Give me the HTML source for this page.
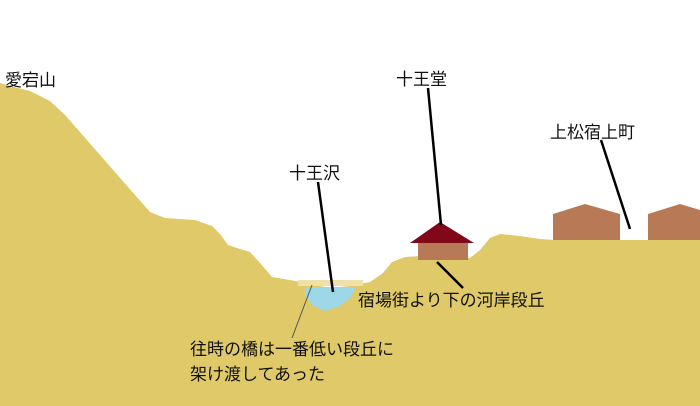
<!DOCTYPE html>
<html><head><meta charset="utf-8"><style>
body{margin:0;width:700px;height:406px;overflow:hidden;background:#fff}
svg{display:block}
text{font-family:"Liberation Sans","Noto Sans CJK JP",sans-serif;font-size:17px;fill:#111}
</style></head><body>
<svg width="700" height="406" viewBox="0 0 700 406">
<polygon fill="#dfc968" points="0,83 10,86 30,91 50,101 65,115 100,155 135,195 150,212 165,218 195,220 212,226 220,234 228,245 240,249 250,252 260,263 272,277 290,280 310,284 330,288 350,286 370,282 383,273 392,262 405,257 420,256 440,258 470,258 480,250 490,238 500,234 520,236 540,239 555,240 700,240 700,406 0,406"/>
<polygon fill="#9cd8e8" points="305,287 356,287 350,298 340,306 325,311 312,305 306,296"/>
<rect x="298" y="280" width="65" height="6" fill="#efe1a8"/>
<polygon fill="#b87a56" points="553,240 553,214 585,204 620,214 620,240"/>
<polygon fill="#b87a56" points="648,240 648,214 680,204 700,210 700,240"/>
<rect x="418" y="243" width="50" height="17" fill="#b87a56"/>
<polygon fill="#800818" points="440,222 474,243 410,243"/>
<line x1="318" y1="182" x2="333" y2="292" stroke="#000" stroke-width="2.5"/>
<line x1="428" y1="88" x2="441" y2="225" stroke="#000" stroke-width="2.5"/>
<line x1="601" y1="140" x2="630" y2="229" stroke="#000" stroke-width="2.5"/>
<line x1="437" y1="262" x2="463" y2="288" stroke="#000" stroke-width="2.5"/>
<line x1="312" y1="285" x2="292" y2="338" stroke="#555" stroke-width="1"/>
<text x="5" y="86">愛宕山</text>
<text x="396" y="85">十王堂</text>
<text x="289" y="179">十王沢</text>
<text x="550" y="138">上松宿上町</text>
<text x="358" y="306">宿場街より下の河岸段丘</text>
<text x="190" y="355">往時の橋は一番低い段丘に</text>
<text x="190" y="380">架け渡してあった</text>
</svg>
</body></html>
